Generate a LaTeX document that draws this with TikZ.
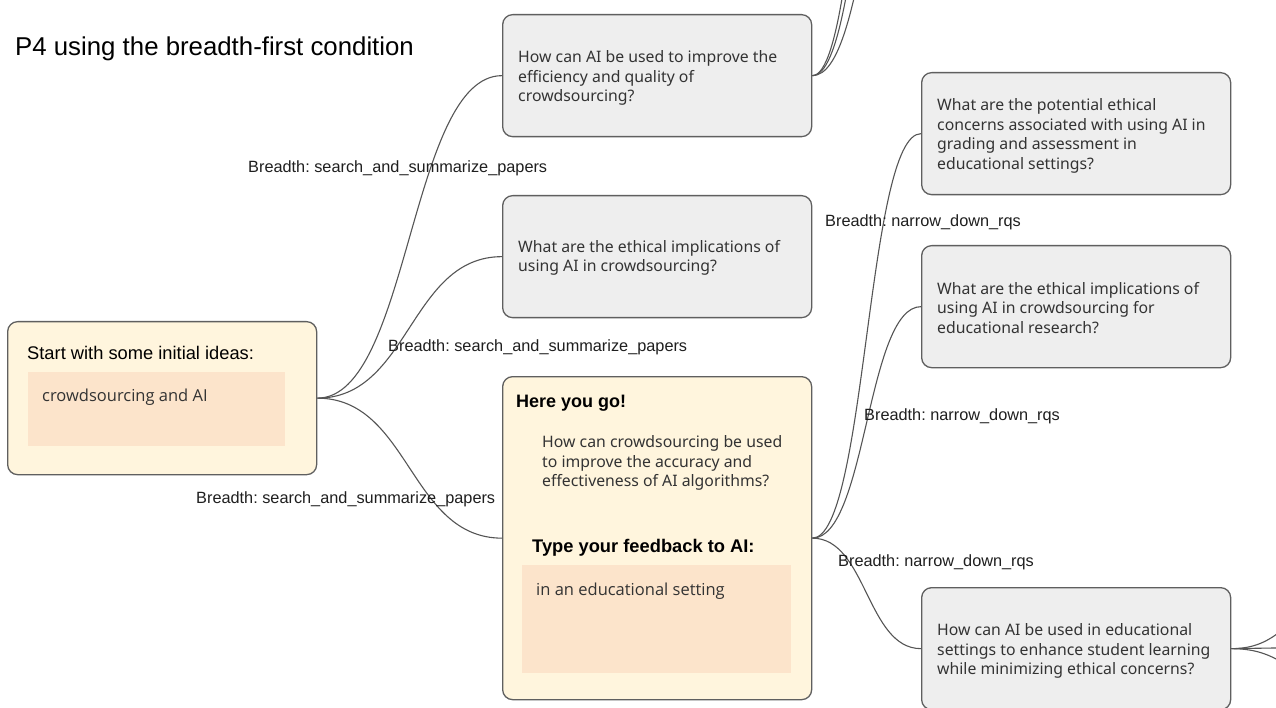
\documentclass[tikz,border=0pt]{standalone}
\usepackage{fontspec}
\setmainfont{Liberation Sans}
\newfontfamily\qfont{Noto Sans}
\newfontfamily\ifont{Open Sans}
\usetikzlibrary{calc}
\definecolor{cream}{HTML}{FFF5DD}
\definecolor{peach}{HTML}{FCE4CB}
\definecolor{qgray}{HTML}{EEEEEE}
\definecolor{bord}{HTML}{5F5F5F}
\definecolor{wire}{HTML}{555555}
\definecolor{qtext}{HTML}{333333}
\frenchspacing
\begin{document}
\begin{tikzpicture}[x=1pt,y=-1pt,
  box/.style={draw=bord,line width=1.3pt,rounded corners=10pt,minimum width=309pt,anchor=north west,inner sep=0pt},
  qbox/.style={box,fill=qgray,minimum height=122pt},
  cbox/.style={box,fill=cream},
  inbox/.style={fill=peach,anchor=north west,inner sep=0pt},
  qtxt/.style={anchor=west,align=left,inner sep=0pt,font=\qfont\fontsize{15.8}{19.6}\selectfont,text=qtext},
  lbl/.style={anchor=west,inner sep=0pt,font=\fontsize{16.3}{18}\selectfont,text=black!88},
  wirestyle/.style={draw=wire,line width=1.1pt},
  hcurve/.style={to path={let \p1=(\tikztostart), \p2=(\tikztotarget) in
     (\p1) .. controls ({(\x1+\x2)/2},\y1) and ({(\x1+\x2)/2},\y2) .. (\p2) \tikztonodes}}
]
\useasboundingbox (0,0) rectangle (1276,708);
\fill[white] (0,0) rectangle (1276,708);

% title
\node[anchor=west,inner sep=0pt,font=\fontsize{25.8}{30}\selectfont] (title) at (15,48.5) {P4 using the breadth-first condition};

% start box
\node[cbox,minimum height=153pt] (start) at (7,321) {};
\node[anchor=west,inner sep=0pt,font=\fontsize{18.3}{21}\selectfont] (startlbl) at (27,353) {Start with some initial ideas:};
\node[inbox,minimum width=257pt,minimum height=74pt] (startin) at (28,372) {};
\node[anchor=west,inner sep=0pt,font=\ifont\fontsize{16.5}{19}\selectfont,text=qtext] (starttxt) at (42,397) {crowdsourcing and AI};

% question boxes
\node[qbox] (a) at (502,14) {};
\node[qtxt] (atxt) at (518,78) {How can AI be used to improve the\\efficiency and quality of\\crowdsourcing?};

\node[qbox] (b) at (502,195) {};
\node[qtxt] (btxt) at (518,258) {What are the ethical implications of\\using AI in crowdsourcing?};

% here you go box
\node[cbox,minimum height=323pt] (c) at (502,376) {};
\node[anchor=west,inner sep=0pt,font=\bfseries\fontsize{18}{21}\selectfont] (chead) at (516,403) {Here you go!};
\node[qtxt] (ctxt) at (542,463) {How can crowdsourcing be used\\to improve the accuracy and\\effectiveness of AI algorithms?};
\node[anchor=west,inner sep=0pt,font=\bfseries\fontsize{18.3}{21}\selectfont] (cfb) at (532,548) {Type your feedback to AI:};
\node[inbox,minimum width=269pt,minimum height=108pt] (cin) at (522,565) {};
\node[anchor=west,inner sep=0pt,font=\ifont\fontsize{16.5}{19}\selectfont,text=qtext] (cintxt) at (536,591) {in an educational setting};

\node[qbox] (d) at (921,72) {};
\node[qtxt] (dtxt) at (937,136) {What are the potential ethical\\concerns associated with using AI in\\grading and assessment in\\educational settings?};

\node[qbox] (e) at (921,245) {};
\node[qtxt] (etxt) at (937,308) {What are the ethical implications of\\using AI in crowdsourcing for\\educational research?};

\node[qbox] (f) at (921,587) {};
\node[qtxt] (ftxt) at (937,651) {How can AI be used in educational\\settings to enhance student learning\\while minimizing ethical concerns?};

% off-picture targets
\coordinate (a1) at (921,-520);
\coordinate (a2) at (921,-380);
\coordinate (a3) at (921,-200);
\coordinate (f1) at (1340,606);
\coordinate (f2) at (1340,647);
\coordinate (f3) at (1340,680);

% connectors
\draw[wirestyle] (start.east) to[hcurve] (a.west);
\draw[wirestyle] (start.east) to[hcurve] (b.west);
\draw[wirestyle] (start.east) to[hcurve] (c.west);
\draw[wirestyle] (c.east) to[hcurve] (d.west);
\draw[wirestyle] (c.east) to[hcurve] (e.west);
\draw[wirestyle] (c.east) to[hcurve] (f.west);
\draw[wirestyle] (a.east) to[hcurve] (a1);
\draw[wirestyle] (a.east) to[hcurve] (a2);
\draw[wirestyle] (a.east) to[hcurve] (a3);
\draw[wirestyle] (f.east) to[hcurve] (f1);
\draw[wirestyle] (f.east) to[hcurve] (f2);
\draw[wirestyle] (f.east) to[hcurve] (f3);

% connector labels
\node[lbl] (la) at (248,168) {Breadth: search\_and\_summarize\_papers};
\node[lbl] (lb) at (388,347) {Breadth: search\_and\_summarize\_papers};
\node[lbl] (lc) at (196,499) {Breadth: search\_and\_summarize\_papers};
\node[lbl] (ld) at (825,222) {Breadth: narrow\_down\_rqs};
\node[lbl] (le) at (864,416) {Breadth: narrow\_down\_rqs};
\node[lbl] (lf) at (838,562) {Breadth: narrow\_down\_rqs};
\end{tikzpicture}
\end{document}
